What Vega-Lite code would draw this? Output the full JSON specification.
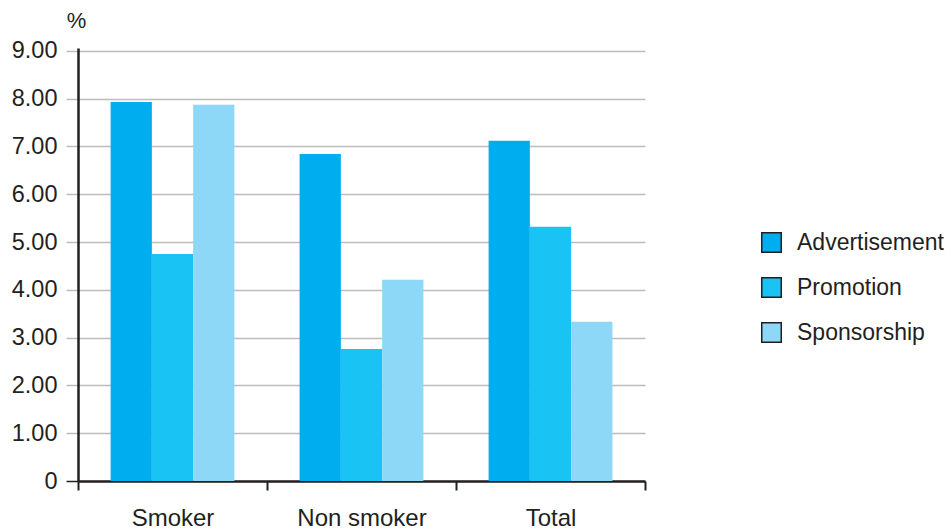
{
  "$schema": "https://vega.github.io/schema/vega-lite/v6.json",
  "width": 567,
  "height": 433,
  "autosize": {"type": "none"},
  "padding": {"left": 78, "top": 48, "right": 306, "bottom": 50},
  "background": "white",
  "config": {
    "view": {"stroke": null},
    "font": "Liberation Sans"
  },
  "data": {
    "values": [
      {"group": "Smoker", "type": "Advertisement", "pct": 7.93},
      {"group": "Smoker", "type": "Promotion", "pct": 4.75},
      {"group": "Smoker", "type": "Sponsorship", "pct": 7.87},
      {"group": "Non smoker", "type": "Advertisement", "pct": 6.84},
      {"group": "Non smoker", "type": "Promotion", "pct": 2.76},
      {"group": "Non smoker", "type": "Sponsorship", "pct": 4.21},
      {"group": "Total", "type": "Advertisement", "pct": 7.12},
      {"group": "Total", "type": "Promotion", "pct": 5.32},
      {"group": "Total", "type": "Sponsorship", "pct": 3.33}
    ]
  },
  "mark": {"type": "bar"},
  "encoding": {
    "x": {
      "field": "group",
      "type": "nominal",
      "sort": ["Smoker", "Non smoker", "Total"],
      "scale": {"paddingInner": 0, "paddingOuter": 0},
      "axis": {
        "title": null,
        "tickBand": "extent",
        "grid": false,
        "domainColor": "#231f20",
        "domainWidth": 2.5,
        "tickColor": "#231f20",
        "tickWidth": 2,
        "tickSize": 9,
        "labelAngle": 0,
        "labelFontSize": 24,
        "labelColor": "#231f20",
        "labelPadding": 16
      }
    },
    "xOffset": {
      "field": "type",
      "type": "nominal",
      "sort": ["Advertisement", "Promotion", "Sponsorship"],
      "scale": {"paddingInner": 0, "paddingOuter": 0.79}
    },
    "y": {
      "field": "pct",
      "type": "quantitative",
      "scale": {"domain": [0, 9.06], "nice": false, "zero": true},
      "axis": {
        "title": "%",
        "titleAngle": 0,
        "titleX": -2,
        "titleY": -28,
        "titleAlign": "center",
        "titleBaseline": "middle",
        "titleFontSize": 22,
        "titleFontWeight": "normal",
        "titleColor": "#231f20",
        "values": [0, 1, 2, 3, 4, 5, 6, 7, 8, 9],
        "labelExpr": "datum.value === 0 ? '0' : format(datum.value, '.2f')",
        "labelFontSize": 23.5,
        "labelColor": "#231f20",
        "labelPadding": 9,
        "tickSize": 12,
        "tickWidth": 1.5,
        "tickColor": {"condition": {"test": "datum.value === 0", "value": "#231f20"}, "value": "#bcbcbc"},
        "grid": true,
        "gridColor": "#bcbcbc",
        "gridWidth": 1.5,
        "domainColor": "#231f20",
        "domainWidth": 2.5
      }
    },
    "color": {
      "field": "type",
      "type": "nominal",
      "sort": ["Advertisement", "Promotion", "Sponsorship"],
      "scale": {
        "domain": ["Advertisement", "Promotion", "Sponsorship"],
        "range": ["#00aeef", "#19c3f4", "#8dd8f7"]
      },
      "legend": {
        "title": null,
        "orient": "none",
        "legendX": 682,
        "legendY": 183,
        "padding": 0,
        "symbolType": "square",
        "symbolSize": 380,
        "symbolStrokeColor": "#231f20",
        "symbolStrokeWidth": 1.5,
        "symbolOpacity": 1,
        "labelFontSize": 23,
        "labelColor": "#231f20",
        "labelOffset": 14,
        "rowPadding": 18,
        "labelLimit": 300
      }
    }
  }
}
